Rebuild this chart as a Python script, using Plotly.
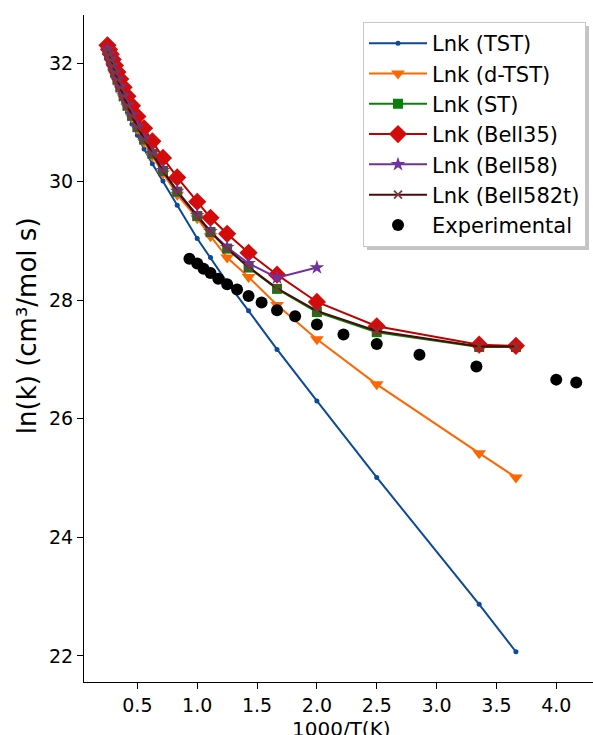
import plotly.graph_objects as go

# ---- data ----
x_calc = [0.250, 0.263, 0.278, 0.294, 0.3125, 0.333, 0.357, 0.385, 0.417, 0.455,
          0.500, 0.556, 0.625, 0.714, 0.833, 1.000, 1.111, 1.250, 1.429, 1.667,
          2.000, 2.500, 3.356, 3.663]

lnk_tst = [32.18, 32.10, 32.00, 31.90, 31.78, 31.65, 31.51, 31.35, 31.17, 30.97,
           30.78, 30.55, 30.30, 30.01, 29.60, 29.04, 28.72, 28.30, 27.82, 27.17,
           26.30, 25.01, 22.87, 22.07]

lnk_dtst = [32.20, 32.12, 32.03, 31.93, 31.82, 31.70, 31.57, 31.42, 31.26, 31.08,
            30.89, 30.67, 30.43, 30.14, 29.78, 29.38, 29.08, 28.72, 28.39, 27.92,
            27.34, 26.58, 25.42, 25.01]

lnk_st = [32.22, 32.14, 32.05, 31.95, 31.84, 31.72, 31.59, 31.44, 31.28, 31.11,
          30.92, 30.71, 30.47, 30.18, 29.83, 29.42, 29.15, 28.87, 28.55, 28.19,
          27.80, 27.46, 27.21, 27.21]

lnk_bell35 = [32.30, 32.23, 32.15, 32.06, 31.96, 31.85, 31.73, 31.59, 31.44, 31.28,
              31.10, 30.90, 30.68, 30.40, 30.07, 29.66, 29.39, 29.12, 28.80, 28.43,
              27.97, 27.56, 27.25, 27.23]

x_bell58 = x_calc[:21]
lnk_bell58 = [32.23, 32.15, 32.06, 31.96, 31.85, 31.73, 31.60, 31.45, 31.29, 31.12,
              30.93, 30.72, 30.48, 30.19, 29.84, 29.43, 29.16, 28.89, 28.62, 28.38,
              28.55]

lnk_bell582t = [32.22, 32.14, 32.05, 31.95, 31.84, 31.72, 31.59, 31.44, 31.28, 31.11,
                30.92, 30.71, 30.47, 30.18, 29.83, 29.42, 29.15, 28.87, 28.56, 28.20,
                27.82, 27.48, 27.22, 27.22]

x_exp = [0.935, 1.000, 1.053, 1.111, 1.176, 1.250, 1.333, 1.429, 1.538, 1.667,
         1.818, 2.000, 2.222, 2.500, 2.857, 3.333, 4.000, 4.167]
lnk_exp = [28.70, 28.62, 28.53, 28.46, 28.36, 28.27, 28.18, 28.07, 27.96, 27.83,
           27.73, 27.59, 27.42, 27.26, 27.08, 26.88, 26.66, 26.61]

x_ticks = [0.5, 1.0, 1.5, 2.0, 2.5, 3.0, 3.5, 4.0]
y_ticks = [22, 24, 26, 28, 30, 32]

FONT = "DejaVu Sans"

# ---- figure ----
fig = go.Figure()

def line_series(x, y, name, color, symbol, size, mcolor=None):
    fig.add_trace(go.Scatter(
        x=x, y=y, mode="lines+markers", name=name,
        line=dict(color=color, width=2),
        marker=dict(symbol=symbol, size=size, color=mcolor or color,
                    line=dict(width=0)),
    ))

line_series(x_calc, lnk_tst, "Lnk (TST)", "#0b4a96", "circle", 5)
line_series(x_calc, lnk_dtst, "Lnk (d-TST)", "#ff6600", "triangle-down", 12)
line_series(x_calc, lnk_st, "Lnk (ST)", "#0a7f0a", "square", 10)
line_series(x_calc, lnk_bell35, "Lnk (Bell35)", "#c00000", "diamond", 14, "#d40b0b")
line_series(x_bell58, lnk_bell58, "Lnk (Bell58)", "#7030a0", "star", 11)
line_series(x_calc, lnk_bell582t, "Lnk (Bell582t)", "#4a0a0a", "x-thin", 8, "#6b2f2f")
fig.data[-1].marker.line = dict(width=1.8, color="#7a3a3a")

fig.add_trace(go.Scatter(
    x=x_exp, y=lnk_exp, mode="markers", name="Experimental",
    marker=dict(symbol="circle", size=12, color="black"),
))

axis_common = dict(
    showline=True, linecolor="black", linewidth=1.2, mirror=False,
    ticks="outside", ticklen=6, tickwidth=1.2, tickcolor="black",
    showgrid=False, zeroline=False, automargin=False,
    tickfont=dict(family=FONT, size=19, color="black"),
)

fig.update_xaxes(range=[0.054, 4.307], tickvals=x_ticks,
                 ticktext=[f"{v:.1f}" for v in x_ticks], **axis_common)
fig.update_yaxes(range=[21.56, 32.81], tickvals=y_ticks,
                 ticktext=[str(v) for v in y_ticks], **axis_common)

fig.add_annotation(text="1000/T(K)", xref="paper", yref="paper",
                   x=0.505, y=-0.071, xanchor="center", yanchor="middle",
                   showarrow=False, font=dict(family=FONT, size=20, color="black"))
fig.add_annotation(text="ln(k) (cm³/mol s)", xref="paper", yref="paper",
                   x=-0.112, y=0.535, xanchor="center", yanchor="middle",
                   textangle=-90, showarrow=False,
                   font=dict(family=FONT, size=26, color="black"))

# soft legend shadow (offset rectangle drawn under the legend box)
fig.add_shape(type="rect", xref="paper", yref="paper",
              x0=(367 - 84) / 509, x1=(589 - 84) / 509,
              y0=1 - (250 - 15) / 667, y1=1 - (26 - 15) / 667,
              fillcolor="#c4c4c4", line=dict(width=0), layer="above")

fig.update_layout(
    width=593, height=735,
    margin=dict(l=84, r=0, t=15, b=53),
    plot_bgcolor="white", paper_bgcolor="white",
    font=dict(family=FONT, color="black"),
    legend=dict(x=(363 - 84) / 509, y=1 - (22 - 15) / 667,
                xanchor="left", yanchor="top",
                bgcolor="white", bordercolor="#c8c8c8", borderwidth=1,
                font=dict(family=FONT, size=21, color="black"),
                tracegroupgap=0, itemwidth=58),
    showlegend=True,
)

fig.write_html("out.html", config={"displayModeBar": False},
               post_script="document.body.style.margin='0';document.body.style.overflow='hidden';")
